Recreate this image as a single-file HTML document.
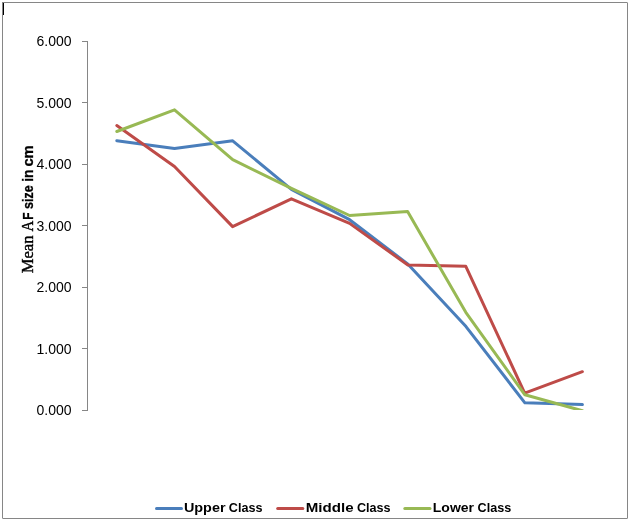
<!DOCTYPE html>
<html>
<head>
<meta charset="utf-8">
<style>
html,body{margin:0;padding:0;background:#fff;}
body{width:630px;height:521px;overflow:hidden;position:relative;font-family:"Liberation Sans",sans-serif;}
svg{will-change:transform;position:absolute;left:0;top:0;display:block;}
.tick{font-family:"Liberation Sans",sans-serif;font-size:14px;fill:#000;text-anchor:end;}
.leg{font-family:"Liberation Sans",sans-serif;font-weight:bold;font-size:13.7px;fill:#000;}
</style>
</head>
<body>
<svg width="630" height="521" viewBox="0 0 630 521">
  <rect x="0" y="0" width="630" height="521" fill="#ffffff"/>
  <!-- chart border -->
  <rect x="2.5" y="2.5" width="625" height="516" fill="none" stroke="#868686" stroke-width="1"/>
  <g fill="#fff" fill-opacity="0.4" shape-rendering="crispEdges">
    <rect x="627" y="2" width="1" height="1"/>
    <rect x="627" y="518" width="1" height="1"/>
    <rect x="2" y="518" width="1" height="1"/>
  </g>
  <!-- cursor mark -->
  <rect x="3" y="3" width="1" height="12" fill="#000"/>
  <!-- y axis -->
  <g stroke="#868686" stroke-width="1" fill="none" shape-rendering="crispEdges">
    <line x1="87.5" y1="41" x2="87.5" y2="411"/>
    <line x1="82" y1="41.5" x2="88" y2="41.5"/>
    <line x1="82" y1="102.5" x2="88" y2="102.5"/>
    <line x1="82" y1="164.5" x2="88" y2="164.5"/>
    <line x1="82" y1="225.5" x2="88" y2="225.5"/>
    <line x1="82" y1="287.5" x2="88" y2="287.5"/>
    <line x1="82" y1="348.5" x2="88" y2="348.5"/>
    <line x1="82" y1="410.5" x2="88" y2="410.5"/>
  </g>
  <!-- tick labels -->
  <g class="tick">
    <text x="71.5" y="46">6.000</text>
    <text x="71.5" y="107.5">5.000</text>
    <text x="71.5" y="169">4.000</text>
    <text x="71.5" y="230.5">3.000</text>
    <text x="71.5" y="292">2.000</text>
    <text x="71.5" y="353.5">1.000</text>
    <text x="71.5" y="415">0.000</text>
  </g>
  <!-- axis title -->
  <g transform="translate(33,273.3) rotate(-90)">
    <g font-family="Liberation Serif, serif" font-size="16px" fill="#000" stroke="#000" stroke-width="0.4">
      <text x="0" y="0" textLength="37.8" lengthAdjust="spacingAndGlyphs">Mean</text>
      <text x="41.8" y="0" textLength="10.8" lengthAdjust="spacingAndGlyphs">A</text>
    </g>
    <g font-family="Liberation Sans, sans-serif" font-weight="bold" font-size="14px" fill="#000" stroke="#000" stroke-width="0.3">
      <text x="53.6" y="0" textLength="7.3" lengthAdjust="spacingAndGlyphs">F</text>
      <text x="64.4" y="0" textLength="23.6" lengthAdjust="spacingAndGlyphs">size</text>
      <text x="91.6" y="0" textLength="12.2" lengthAdjust="spacingAndGlyphs">in</text>
      <text x="106.7" y="0" textLength="21.2" lengthAdjust="spacingAndGlyphs">cm</text>
    </g>
  </g>
  <!-- series -->
  <defs><clipPath id="plot"><rect x="87" y="30" width="530" height="380"/></clipPath></defs>
  <g fill="none" stroke-width="3" stroke-linecap="round" stroke-linejoin="round" clip-path="url(#plot)">
    <polyline stroke="#4A7EBB" points="116.8,140.7 174.5,148.4 232.7,140.8 291.4,189.4 349.6,219.7 408,264.2 466,326.6 524.9,402.8 582.4,404.6"/>
    <polyline stroke="#BE4B48" points="116.8,125.5 174.5,166.5 232.6,226.6 291.4,198.8 349.6,223.4 407.9,265 465.8,266.3 524.7,393.1 582.4,371.7"/>
    <polyline stroke="#98B954" points="116.8,131.5 174.5,109.8 232.7,159.7 291.4,188.3 349.6,215.5 407.6,211.6 465.8,312.3 524.9,394.8 582.4,410.8"/>
  </g>
  <!-- legend -->
  <g fill="none" stroke-width="3" stroke-linecap="round">
    <line x1="156.5" y1="508.5" x2="181.5" y2="508.5" stroke="#4A7EBB"/>
    <line x1="277.7" y1="508.5" x2="302.8" y2="508.5" stroke="#BE4B48"/>
    <line x1="404.8" y1="508.5" x2="430" y2="508.5" stroke="#98B954"/>
  </g>
  <g class="leg">
    <text x="183.9" y="512.4" textLength="41.6" lengthAdjust="spacingAndGlyphs">Upper</text>
    <text x="228.8" y="512.4" textLength="33.6" lengthAdjust="spacingAndGlyphs">Class</text>
    <text x="305.8" y="512.4" textLength="47.8" lengthAdjust="spacingAndGlyphs">Middle</text>
    <text x="356.9" y="512.4" textLength="33.6" lengthAdjust="spacingAndGlyphs">Class</text>
    <text x="432.8" y="512.4" textLength="41.2" lengthAdjust="spacingAndGlyphs">Lower</text>
    <text x="477.6" y="512.4" textLength="33.6" lengthAdjust="spacingAndGlyphs">Class</text>
  </g>
</svg>
</body>
</html>
